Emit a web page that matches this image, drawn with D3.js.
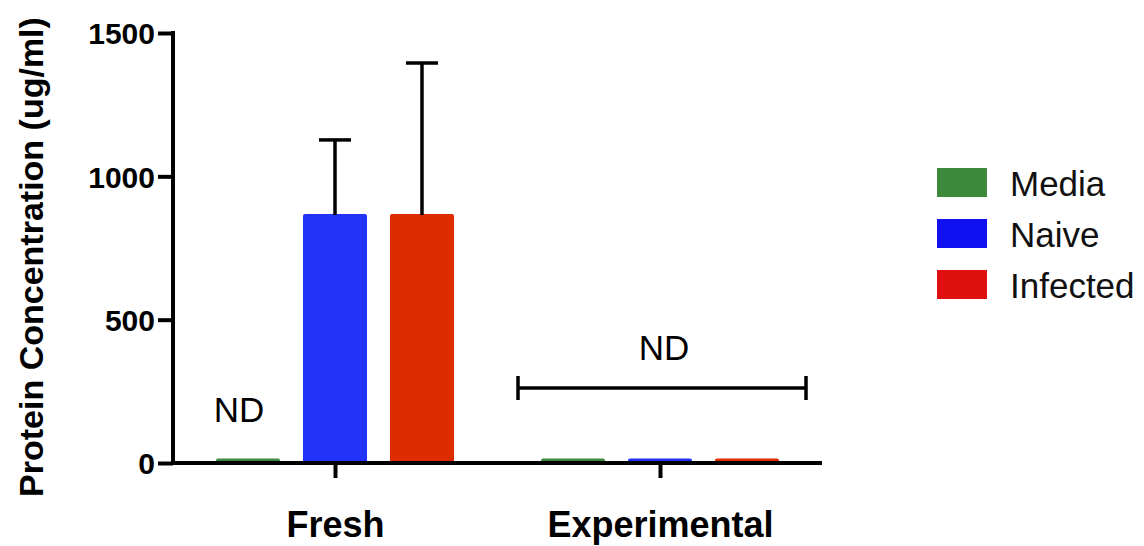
<!DOCTYPE html>
<html><head><meta charset="utf-8">
<script src="https://cdn.jsdelivr.net/npm/d3@7"></script>
<style>body{margin:0;background:#fff}svg{display:block}text{font-family:"Liberation Sans",Arial,sans-serif}</style>
</head><body>
<svg id="c" width="1144" height="546"></svg>
<script>
const categories = ["Fresh", "Experimental"];
const seriesNames = ["Media", "Naive", "Infected"];
const media = [12, 12];
const naive = [865, 12];
const infected = [865, 12];
const naiveErr = [1127, null];
const infectedErr = [1395, null];
const yTicks = [0, 500, 1000, 1500];
const colors = ["#3d8a3d", "#2233f8", "#dc2c00"];
const legendColors = ["#3d8a3d", "#1010f0", "#e01010"];

const svg = d3.select("#c");
const x0 = 173, x1 = 822, yTop = 33, yBot = 463;
const xc = d3.scalePoint().domain(categories).range([335, 660]);
const xs = d3.scaleBand().domain(seriesNames).range([-119, 119]).paddingInner(0.264).paddingOuter(0);
const y = d3.scaleLinear().domain([0, 1500]).range([yBot, yTop]);

const data = [media, naive, infected];
const errs = [[null, null], naiveErr, infectedErr];

seriesNames.forEach((s, i) => {
  categories.forEach((c, j) => {
    const v = data[i][j];
    const bx = xc(c) + xs(s);
    svg.append("rect").attr("x", bx).attr("y", y(v) - 1).attr("width", xs.bandwidth())
      .attr("height", yBot - y(v) + 1).attr("fill", colors[i]).attr("rx", 2);
    const e = errs[i][j];
    if (e != null) {
      const cx = bx + xs.bandwidth() / 2;
      svg.append("line").attr("x1", cx).attr("x2", cx).attr("y1", y(v)).attr("y2", y(e))
        .attr("stroke", "#000").attr("stroke-width", 3.5);
      svg.append("line").attr("x1", cx - 16).attr("x2", cx + 16).attr("y1", y(e)).attr("y2", y(e))
        .attr("stroke", "#000").attr("stroke-width", 3.5);
    }
  });
});

const yAxis = d3.axisLeft(y).tickValues(yTicks).tickFormat(d3.format("d")).tickSize(15).tickSizeOuter(0).tickPadding(3);
const gy = svg.append("g").attr("transform", `translate(${x0},0)`).call(yAxis);
gy.select(".domain").attr("stroke-width", 4).attr("d", `M0,${yTop - 2}V${yBot + 2}`);
gy.selectAll(".tick line").attr("stroke-width", 4);
gy.selectAll(".tick text").attr("font-size", 30).attr("font-weight", "bold").attr("fill", "#000")
  .attr("font-family", '"Liberation Sans",Arial,sans-serif').attr("dy", "0.36em");

const xAxis = d3.axisBottom(xc).tickSize(15).tickSizeOuter(0);
const gx = svg.append("g").attr("transform", `translate(0,${yBot})`).call(xAxis);
gx.select(".domain").attr("stroke-width", 4).attr("d", `M${x0 - 2},0H${x1}`);
gx.selectAll(".tick line").attr("stroke-width", 4);
gx.selectAll(".tick text").attr("font-size", 36).attr("font-weight", "bold").attr("fill", "#000")
  .attr("font-family", '"Liberation Sans",Arial,sans-serif').attr("y", 74).attr("dy", 0);

svg.append("text").attr("transform", "translate(43,257) rotate(-90)").attr("text-anchor", "middle")
  .attr("font-size", 34).attr("font-weight", "bold").text("Protein Concentration (ug/ml)");

svg.append("text").attr("x", 239).attr("y", 422)
  .attr("text-anchor", "middle").attr("font-size", 35).text("ND");
const bl = xc("Experimental") - 142, br = xc("Experimental") + 146, by = 388;
svg.append("line").attr("x1", bl).attr("x2", br).attr("y1", by).attr("y2", by).attr("stroke", "#000").attr("stroke-width", 3.5);
[bl, br].forEach(xx => svg.append("line").attr("x1", xx).attr("x2", xx).attr("y1", by - 12).attr("y2", by + 12).attr("stroke", "#000").attr("stroke-width", 3.5));
svg.append("text").attr("x", xc("Experimental") + 4).attr("y", 360).attr("text-anchor", "middle").attr("font-size", 35).text("ND");

seriesNames.forEach((s, i) => {
  const ly = 168 + i * 51;
  svg.append("rect").attr("x", 937).attr("y", ly).attr("width", 50).attr("height", 29).attr("fill", legendColors[i]);
  svg.append("text").attr("x", 1010).attr("y", ly + 28).attr("font-size", 35).attr("fill", "#111").text(s);
});
</script>
</body></html>
